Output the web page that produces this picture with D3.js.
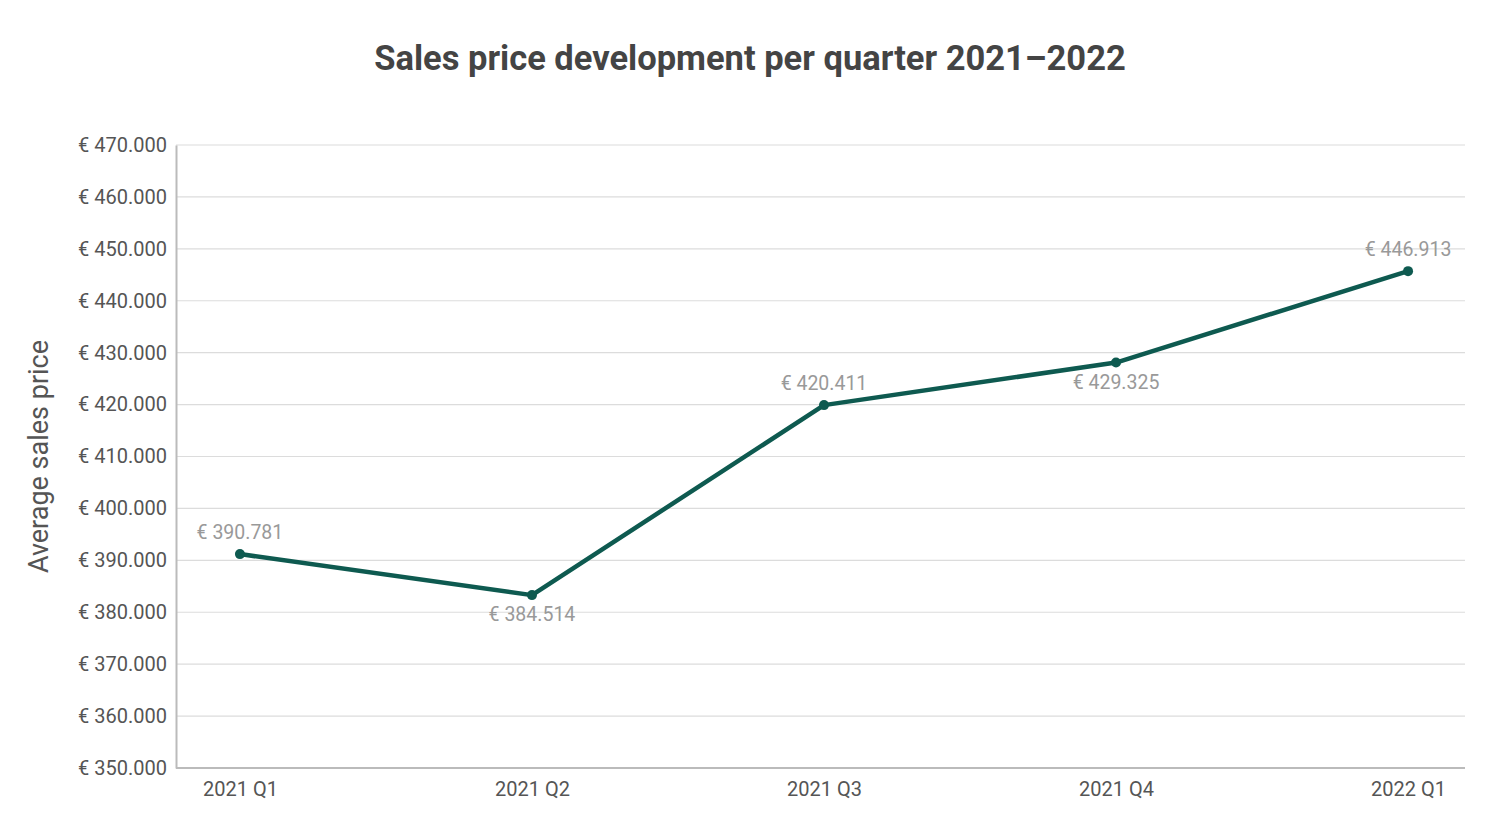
<!DOCTYPE html>
<html lang="en">
<head>
  <meta charset="UTF-8" />
  <title>Sales price development per quarter 2021–2022</title>
  <script src="https://d3js.org/d3.v7.min.js"></script>
  <style>
    body { margin: 0; background: #fff; }
    svg text { font-family: Roboto, "Open Sans", sans-serif; }
  </style>
</head>
<body>
  <svg id="chart" width="1501" height="831"></svg>
  <script>
    // Data
    const quarters = ["2021 Q1", "2021 Q2", "2021 Q3", "2021 Q4", "2022 Q1"];
    const prices = [391200, 383300, 419900, 428100, 445700];
    const priceLabels = ["€ 390.781", "€ 384.514", "€ 420.411", "€ 429.325", "€ 446.913"];
    const labelSide = ["above", "below", "above", "below", "above"];
    const yTicks = [350000, 360000, 370000, 380000, 390000, 400000, 410000, 420000, 430000, 440000, 450000, 460000, 470000];

    const svg = d3.select("#chart");
    const margin = { top: 145, right: 36, bottom: 63, left: 176 };
    const width = +svg.attr("width");
    const height = +svg.attr("height");

    // points sit a little right of centre in the reference
    const x = d3.scalePoint()
      .domain(quarters)
      .range([margin.left + 3.5, width - margin.right + 3.5])
      .padding(0.207);

    const y = d3.scaleLinear()
      .domain([350000, 470000])
      .range([height - margin.bottom, margin.top]);

    const fmt = v => "€ " + d3.format(",")(v).replace(/,/g, ".");

    // Title
    svg.append("text")
      .attr("x", 750)
      .attr("y", 70)
      .attr("text-anchor", "middle")
      .attr("font-size", "34.5px")
      .attr("font-weight", "bold")
      .attr("fill", "#444")
      .text("Sales price development per quarter 2021–2022");

    // Gridlines
    svg.append("g")
      .selectAll("line")
      .data(yTicks.slice(1))
      .join("line")
      .attr("x1", margin.left)
      .attr("x2", width - margin.right)
      .attr("y1", d => y(d))
      .attr("y2", d => y(d))
      .attr("stroke", "#dcdcdc")
      .attr("stroke-width", 1.2);

    // Y axis
    const yAxis = svg.append("g")
      .attr("transform", `translate(${margin.left},0)`)
      .call(d3.axisLeft(y).tickValues(yTicks).tickFormat(fmt).tickSize(0).tickPadding(9));
    yAxis.select(".domain").attr("stroke", "#bbb").attr("stroke-width", 2);
    yAxis.selectAll("text")
      .attr("font-size", "20px")
      .attr("fill", "#555")
      .attr("font-family", "Roboto, sans-serif");

    // X axis
    const xAxis = svg.append("g")
      .attr("transform", `translate(0,${height - margin.bottom})`)
      .call(d3.axisBottom(x).tickSize(0).tickPadding(14));
    xAxis.select(".domain")
      .attr("d", `M${margin.left},0H${width - margin.right}`)
      .attr("stroke", "#bbb").attr("stroke-width", 2);
    xAxis.selectAll("text")
      .attr("font-size", "20px")
      .attr("fill", "#555")
      .attr("font-family", "Roboto, sans-serif");

    // Axis title
    svg.append("text")
      .attr("transform", `translate(48,${(margin.top + height - margin.bottom) / 2}) rotate(-90)`)
      .attr("text-anchor", "middle")
      .attr("font-size", "27px")
      .attr("fill", "#555")
      .text("Average sales price");

    // Line
    const points = quarters.map((q, i) => ({ q, v: prices[i], label: priceLabels[i], side: labelSide[i] }));

    svg.append("path")
      .datum(points)
      .attr("fill", "none")
      .attr("stroke", "#0e5a50")
      .attr("stroke-width", 4.5)
      .attr("stroke-linejoin", "round")
      .attr("d", d3.line().x(d => x(d.q)).y(d => y(d.v)));

    svg.append("g")
      .selectAll("circle")
      .data(points)
      .join("circle")
      .attr("cx", d => x(d.q))
      .attr("cy", d => y(d.v))
      .attr("r", 5)
      .attr("fill", "#0e5a50");

    // Value labels
    svg.append("g")
      .selectAll("text")
      .data(points)
      .join("text")
      .attr("x", d => x(d.q))
      .attr("y", d => d.side === "above" ? y(d.v) - 15 : y(d.v) + 26)
      .attr("text-anchor", "middle")
      .attr("font-size", "19.5px")
      .attr("fill", "#999")
      .text(d => d.label);
  </script>
</body>
</html>
